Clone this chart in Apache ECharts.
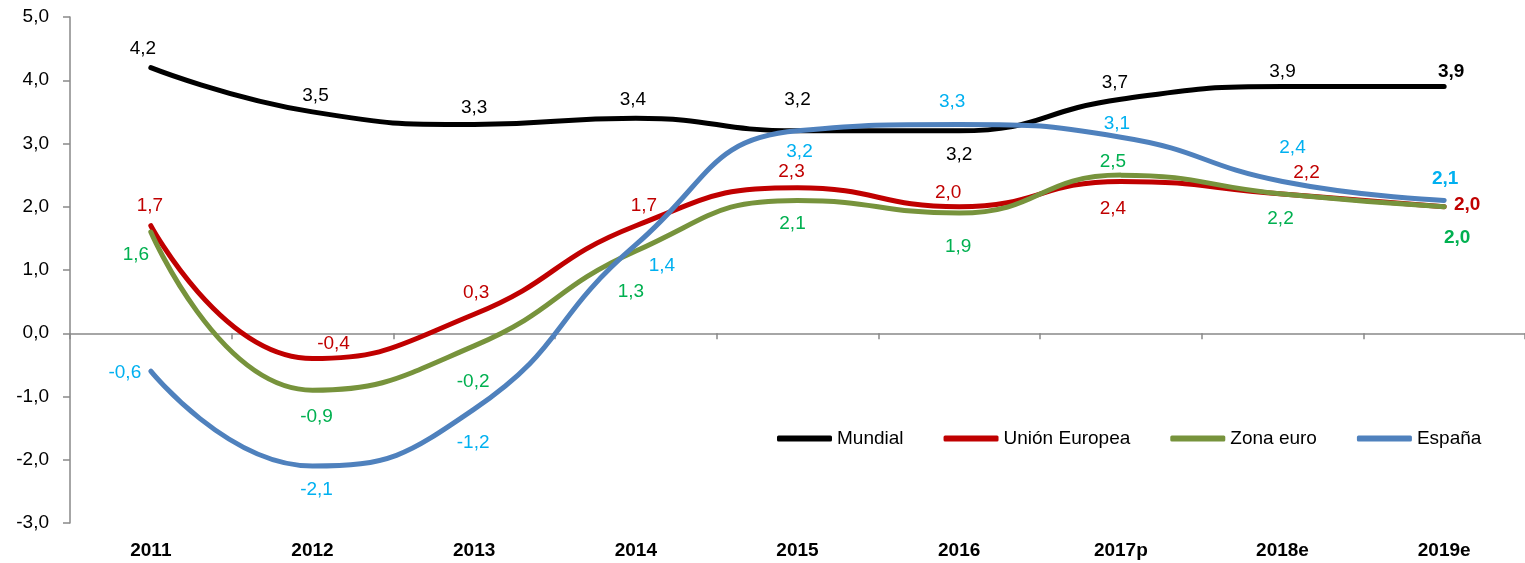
<!DOCTYPE html>
<html>
<head>
<meta charset="utf-8">
<script src="https://cdn.jsdelivr.net/npm/echarts@6/dist/echarts.min.js"></script>
<style>
  html, body { margin: 0; padding: 0; background: #fff; }
  #chart { width: 1525px; height: 563px; }
</style>
</head>
<body>
<div id="chart"></div>
<script>
// --- data ---
const years = ['2011', '2012', '2013', '2014', '2015', '2016', '2017p', '2018e', '2019e'];
const mundial = [4.2, 3.5, 3.3, 3.4, 3.2, 3.2, 3.7, 3.9, 3.9];
const unionEuropea = [1.7, -0.4, 0.3, 1.7, 2.3, 2.0, 2.4, 2.2, 2.0];
const zonaEuro = [1.6, -0.9, -0.2, 1.3, 2.1, 1.9, 2.5, 2.2, 2.0];
const espana = [-0.6, -2.1, -1.2, 1.4, 3.2, 3.3, 3.1, 2.4, 2.1];

// label offsets (px) from each point, as placed in the original
const offMundial = [[-8, -19], [3, -16], [0, -17], [-3, -18], [0, -31], [0, 24], [-6, -16], [0, -15], [7, -15]];
const offUE = [[-1, -20], [21, -15], [2, -22], [8, -20], [-6, -16], [-11, -14], [-8, 27], [24, -21], [23, -2]];
const offZona = [[-15, 23], [4, 27], [-1, 36], [-5, 41], [-5, 23], [-1, 34], [-8, -13], [-2, 25], [13, 31]];
const offEspana = [[-26, 2], [4, 24], [-1, 34], [26, 21], [2, 21], [-7, -23], [-4, -13], [10, -34], [1, -22]];

const FONT = "'Liberation Sans', Arial, sans-serif";
const fmt = v => v.toFixed(1).replace('.', ',');

const chart = echarts.init(document.getElementById('chart'));

function makeSeries(name, values, offsets, lineColor, labelColor) {
  return {
    name: name,
    type: 'line',
    smooth: true,
    xAxisIndex: 0,
    symbol: 'circle',
    symbolSize: 0.1,
    itemStyle: { color: lineColor },
    lineStyle: { color: lineColor, width: 5, cap: 'round' },
    emphasis: { disabled: true },
    data: values.map((v, i) => ({
      value: v,
      label: {
        show: true,
        position: 'inside',
        offset: offsets[i],
        formatter: fmt(v),
        color: labelColor,
        fontFamily: FONT,
        fontSize: 19,
        fontWeight: i === values.length - 1 ? 'bold' : 'normal'
      }
    }))
  };
}

const option = {
  animation: false,
  backgroundColor: '#fff',
  textStyle: { fontFamily: FONT },
  grid: { left: 70, top: 17, width: 1462, height: 506 },
  legend: {
    left: 772,
    top: 424,
    icon: 'roundRect',
    itemWidth: 55,
    itemHeight: 6,
    itemGap: 40,
    textStyle: { fontFamily: FONT, fontSize: 19, color: '#000' },
    data: ['Mundial', 'Unión Europea', 'Zona euro', 'España']
  },
  xAxis: [
    {
      type: 'category',
      data: years,
      boundaryGap: true,
      axisLine: { onZero: true, lineStyle: { color: '#898989', width: 1.5 } },
      axisTick: { show: true, length: 6, lineStyle: { color: '#898989', width: 1.5 } },
      axisLabel: { show: false },
      splitLine: { show: false }
    },
    {
      type: 'category',
      data: years,
      position: 'bottom',
      boundaryGap: true,
      axisLine: { show: false, onZero: false },
      axisTick: { show: false },
      axisLabel: { margin: 18, color: '#000', fontFamily: FONT, fontSize: 19, fontWeight: 'bold' },
      splitLine: { show: false }
    }
  ],
  yAxis: {
    type: 'value',
    min: -3,
    max: 5,
    interval: 1,
    axisLine: { show: true, lineStyle: { color: '#898989', width: 1.5 } },
    axisTick: { show: true, length: 7, lineStyle: { color: '#898989', width: 1.5 } },
    axisLabel: { margin: 21, color: '#000', fontFamily: FONT, fontSize: 19, formatter: v => fmt(v) },
    splitLine: { show: false }
  },
  series: [
    makeSeries('Mundial', mundial, offMundial, '#000000', '#000000'),
    makeSeries('Unión Europea', unionEuropea, offUE, '#C00000', '#C00000'),
    makeSeries('Zona euro', zonaEuro, offZona, '#77933C', '#00B050'),
    makeSeries('España', espana, offEspana, '#4F81BD', '#00B0F0')
  ]
};

chart.setOption(option);
</script>
</body>
</html>
